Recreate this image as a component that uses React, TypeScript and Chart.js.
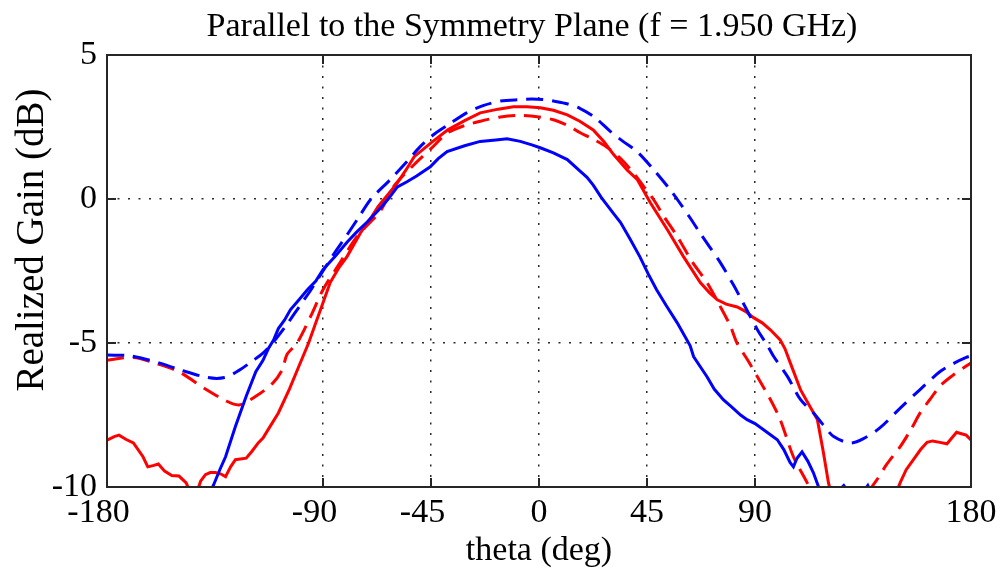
import React, { useEffect, useRef } from "react";
import { Chart, registerables } from "chart.js";

Chart.register(...registerables);

const chartTitle = "Parallel to the Symmetry Plane (f = 1.950 GHz)";
const xAxisTitle = "theta (deg)";
const yAxisTitle = "Realized Gain (dB)";

const xTicks = [-180, -90, -45, 0, 45, 90, 180];
const yTicks = [-10, -5, 0, 5];

// Blue solid
const blueSolidTheta = [-180, -165, -150, -140, -135.6, -133, -130.6, -126.5, -122, -118, -115, -112.8, -110.6, -108.6, -106, -103.6, -100, -96.5, -93, -90, -85, -80, -76, -71.6, -67, -63, -59, -55, -51, -45.3, -42, -38.3, -31, -24.5, -18, -13.3, -7.8, -3, 0.5, 6, 11.8, 17, 20, 22.6, 26, 31, 34, 38, 42, 45.5, 49, 53, 57.6, 63, 64.4, 67, 70, 73, 76.8, 80, 84, 86.7, 90, 95, 99.3, 102, 104.6, 106, 107.5, 109.6, 112, 114.3, 116.5, 118, 121, 124, 127, 130, 134, 137, 140, 145, 160, 180];
const blueSolidGain = [-12, -12, -11.5, -10.7, -9.93, -9.4, -8.95, -7.9, -6.85, -6.0, -5.6, -5.2, -4.9, -4.5, -4.2, -3.85, -3.5, -3.15, -2.85, -2.45, -2.0, -1.5, -1.15, -0.8, -0.4, -0.02, 0.42, 0.6, 0.8, 1.12, 1.4, 1.65, 1.85, 2.0, 2.05, 2.09, 2.0, 1.88, 1.78, 1.6, 1.37, 0.98, 0.75, 0.48, 0.05, -0.5, -0.82, -1.4, -2.0, -2.6, -3.15, -3.7, -4.3, -5.1, -5.47, -5.8, -6.17, -6.6, -6.97, -7.2, -7.5, -7.66, -7.8, -8.1, -8.36, -8.7, -9.15, -9.3, -9.0, -8.78, -9.1, -9.5, -10.0, -10.4, -10.3, -10.2, -9.95, -10.3, -10.3, -9.95, -10.5, -11.2, -12, -12];

// Blue dashed
const blueDashedTheta = [-180, -170, -158, -150, -138, -131, -125, -119, -115, -111, -105, -100, -95, -90, -85, -80, -75, -70, -62, -55, -49.5, -44, -37, -30, -23, -16, -8, -3, 2, 6, 12, 17, 23, 29.7, 35, 40.8, 47.75, 54.7, 57.5, 63, 67, 71, 75.5, 81, 85, 91, 95, 97.8, 103.5, 109, 114.4, 118, 122.8, 129.7, 135, 142, 150.5, 159, 167, 173, 178, 180];
const blueDashedGain = [-5.42, -5.45, -5.7, -5.92, -6.2, -6.2, -5.95, -5.6, -5.35, -5.0, -4.35, -3.75, -3.15, -2.5, -1.85, -1.25, -0.62, 0.0, 0.67, 1.3, 1.82, 2.23, 2.62, 3.0, 3.25, 3.4, 3.45, 3.47, 3.45, 3.4, 3.3, 3.15, 2.85, 2.35, 2.0, 1.65, 1.02, 0.32, 0.0, -0.66, -1.17, -1.65, -2.2, -2.98, -3.6, -4.54, -5.06, -5.47, -6.16, -6.97, -7.43, -7.8, -8.25, -8.47, -8.33, -7.95, -7.26, -6.6, -6.0, -5.7, -5.5, -5.45];

// Red solid
const redSolidTheta = [-180, -177, -175, -172, -169, -165, -163, -160.5, -158.6, -156, -153, -150, -147, -145, -143, -141, -139, -137, -134.8, -132.5, -130.6, -128.5, -126.5, -122, -119.5, -117, -115, -112.8, -108.6, -104, -100, -96, -93, -90, -87, -83.5, -80, -74.4, -70, -67, -63, -59, -55.5, -52, -45, -38, -31, -24.5, -17, -10.7, -5, 0.5, 6, 11.8, 17, 22.6, 27, 31, 36.8, 41, 46.4, 53.5, 60.2, 67.2, 71, 74.3, 78, 82.6, 86, 89.4, 93, 96.4, 100.5, 102.5, 104.7, 109, 113, 116, 118.5, 120.6, 124, 130, 138, 145, 150.5, 153, 156, 159, 161.7, 164, 167, 170, 172, 174, 176, 178, 180];
const redSolidGain = [-8.37, -8.25, -8.2, -8.35, -8.47, -8.95, -9.3, -9.25, -9.2, -9.45, -9.6, -9.62, -9.86, -10.25, -10.3, -9.8, -9.57, -9.5, -9.5, -9.55, -9.64, -9.3, -9.05, -9.0, -8.75, -8.47, -8.3, -8.0, -7.43, -6.6, -5.8, -5.0, -4.3, -3.6, -2.9, -2.4, -2.0, -1.18, -0.65, -0.26, 0.15, 0.56, 1.0, 1.47, 1.95, 2.4, 2.72, 2.99, 3.12, 3.2, 3.2, 3.17, 3.08, 2.92, 2.7, 2.4, 2.0, 1.55, 1.0, 0.67, -0.13, -1.07, -2.0, -2.9, -3.25, -3.5, -3.65, -3.75, -3.9, -4.12, -4.3, -4.54, -4.89, -5.2, -5.69, -6.63, -7.22, -7.66, -8.8, -9.85, -11.0, -12, -12, -11, -9.85, -9.4, -9.05, -8.7, -8.45, -8.4, -8.45, -8.5, -8.3, -8.1, -8.15, -8.2, -8.37];

// Red dashed
const redDashedTheta = [-180, -169, -160, -150, -139, -130.6, -125, -118, -111, -107, -105, -100.8, -95, -90, -82.8, -75.8, -66, -60.6, -52, -45, -38, -31, -24.5, -16, -8, 0, 6, 12, 17.2, 22, 28.3, 34, 39.4, 43.5, 47.6, 52, 57.6, 64, 70, 75, 79.7, 82.5, 87, 91, 96, 100.5, 106, 111.7, 116, 120, 125, 130, 135, 138, 140.8, 145, 150.5, 155, 159, 163, 167, 172, 178, 180];
const redDashedGain = [-5.6, -5.5, -5.7, -6.0, -6.6, -7.0, -7.15, -6.85, -6.4, -5.93, -5.4, -5.0, -4.05, -3.15, -2.2, -1.3, -0.4, 0.43, 1.2, 1.75, 2.3, 2.55, 2.7, 2.85, 2.9, 2.85, 2.75, 2.55, 2.3, 2.1, 1.8, 1.4, 0.9, 0.45, 0.0, -0.6, -1.3, -2.2, -2.9, -3.65, -4.4, -5.0, -5.6, -6.17, -6.9, -7.66, -8.95, -9.85, -10.6, -11.2, -11.6, -11.4, -10.8, -10.1, -9.75, -9.2, -8.6, -8.0, -7.4, -6.95, -6.5, -6.15, -5.8, -5.7];

const W = 1003;
const H = 576;
const FONT = "'Liberation Serif', 'Times New Roman', serif";

const toPoints = (xs: number[], ys: number[]) => xs.map((x, i) => ({ x, y: ys[i] }));

const framePlugin = {
  id: "frame",
  afterDatasetsDraw(chart: any) {
    const { ctx, chartArea, scales } = chart;
    const { left, right, top, bottom } = chartArea;
    const xs = scales.x;
    const ys = scales.y;
    ctx.save();
    ctx.setLineDash([]);
    ctx.strokeStyle = "#262626";
    ctx.lineWidth = 2;
    ctx.strokeRect(left, top, right - left, bottom - top);
    const tl = 9;
    ctx.beginPath();
    xTicks.forEach((v) => {
      if (v === xTicks[0] || v === xTicks[xTicks.length - 1]) return;
      const px = xs.getPixelForValue(v);
      ctx.moveTo(px, top);
      ctx.lineTo(px, top + tl);
      ctx.moveTo(px, bottom);
      ctx.lineTo(px, bottom - tl);
    });
    yTicks.forEach((v) => {
      if (v === yTicks[0] || v === yTicks[yTicks.length - 1]) return;
      const py = ys.getPixelForValue(v);
      ctx.moveTo(left, py);
      ctx.lineTo(left + tl, py);
      ctx.moveTo(right, py);
      ctx.lineTo(right - tl, py);
    });
    ctx.stroke();
    ctx.restore();
  },
};

const titlesPlugin = {
  id: "titles",
  afterDraw(chart: any) {
    const { ctx } = chart;
    ctx.save();
    ctx.fillStyle = "#000";
    ctx.textAlign = "center";
    ctx.textBaseline = "alphabetic";
    ctx.font = `34px ${FONT}`;
    ctx.fillText(chartTitle, 532, 36);
    ctx.translate(43, 240);
    ctx.rotate(-Math.PI / 2);
    ctx.font = `39px ${FONT}`;
    ctx.fillText(yAxisTitle, 0, 0);
    ctx.restore();
  },
};

export default function App() {
  const canvasRef = useRef<HTMLCanvasElement | null>(null);

  useEffect(() => {
    const canvas = canvasRef.current;
    if (!canvas) return;
    const gridColor = (edgeVals: number[]) => (c: any) =>
      c.tick && edgeVals.includes(c.tick.value) ? "rgba(0,0,0,0)" : "#2a2a2a";

    const chart = new Chart(canvas, {
      type: "line",
      data: {
        datasets: [
          {
            label: "blue solid",
            data: toPoints(blueSolidTheta, blueSolidGain),
            borderColor: "#0000ff",
            borderWidth: 3,
            pointRadius: 0,
            tension: 0,
          },
          {
            label: "blue dashed",
            data: toPoints(blueDashedTheta, blueDashedGain),
            borderColor: "#0000ff",
            borderWidth: 3,
            borderDash: [17, 9],
            pointRadius: 0,
            tension: 0.3,
          },
          {
            label: "red solid",
            data: toPoints(redSolidTheta, redSolidGain),
            borderColor: "#ff0000",
            borderWidth: 3,
            pointRadius: 0,
            tension: 0,
          },
          {
            label: "red dashed",
            data: toPoints(redDashedTheta, redDashedGain),
            borderColor: "#ff0000",
            borderWidth: 3,
            borderDash: [17, 9],
            pointRadius: 0,
            tension: 0.3,
          },
        ],
      },
      options: {
        responsive: false,
        animation: false,
        layout: { padding: { left: 0, right: 32, top: 55, bottom: 0 } },
        plugins: {
          legend: { display: false },
          tooltip: { enabled: false },
          title: { display: false },
        },
        scales: {
          x: {
            type: "linear",
            min: -180,
            max: 180,
            afterBuildTicks: (s: any) => {
              s.ticks = xTicks.map((v) => ({ value: v }));
            },
            afterFit: (s: any) => {
              s.height = 89;
            },
            ticks: {
              color: "#000",
              font: { family: FONT, size: 34 },
              padding: 6,
              maxRotation: 0,
              autoSkip: false,
              callback: (v: any) => (Number(v) < 0 ? String(v) + "\u2002" : String(v)),
            },
            grid: {
              color: gridColor([-180, 180]),
              lineWidth: 1.5,
              drawTicks: false,
            },
            border: { display: false, dash: [2, 8.5] },
            title: {
              display: true,
              text: xAxisTitle,
              color: "#000",
              font: { family: FONT, size: 34, lineHeight: 1.2 },
              padding: { top: 0, bottom: 5 },
            },
          },
          y: {
            type: "linear",
            min: -10,
            max: 5,
            afterBuildTicks: (s: any) => {
              s.ticks = yTicks.map((v) => ({ value: v }));
            },
            afterFit: (s: any) => {
              s.width = 107;
            },
            ticks: {
              color: "#000",
              font: { family: FONT, size: 34 },
              padding: 10,
              callback: (v: any) => String(v),
            },
            grid: {
              color: gridColor([-10, 5]),
              lineWidth: 1.5,
              drawTicks: false,
            },
            border: { display: false, dash: [2, 8.5] },
          },
        },
      },
      plugins: [framePlugin, titlesPlugin],
    } as any);

    return () => chart.destroy();
  }, []);

  return (
    <div style={{ position: "fixed", left: 0, top: 0, width: W, height: H, background: "#fff" }}>
      <canvas ref={canvasRef} width={W} height={H} style={{ width: W, height: H, display: "block" }} />
    </div>
  );
}
